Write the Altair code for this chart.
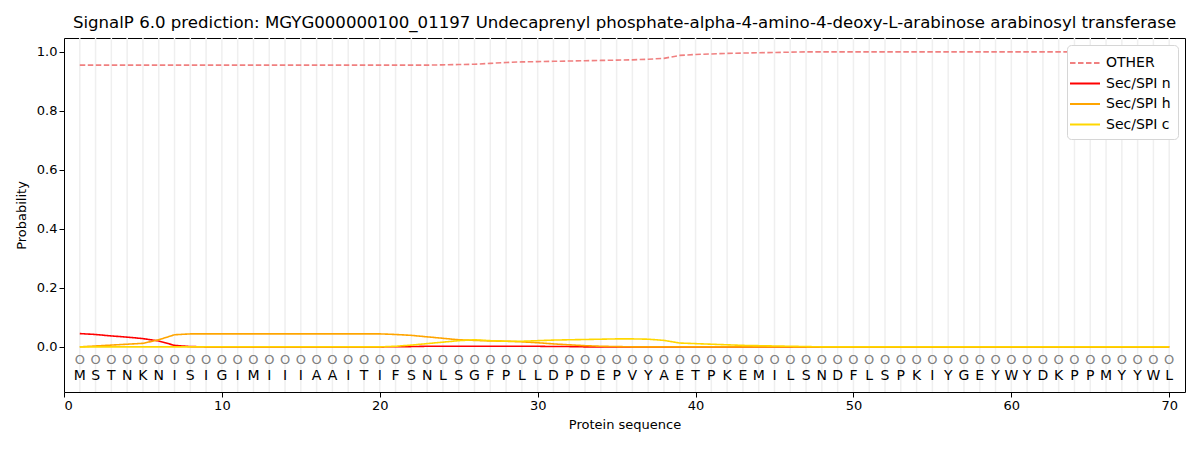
import altair as alt
import pandas as pd

sequence = list("MSTNKNISIGIMIIIAAITIFSNLSGFPLLDPDEPVYAETPKEMILSNDFLSPKIYGEYWYDKPPMYYWL")
positions = list(range(1, 71))

other = [0.955] * 22 + [0.955, 0.956, 0.957, 0.958, 0.961, 0.964, 0.966, 0.967,
         0.968, 0.969, 0.970, 0.971, 0.972, 0.973, 0.975, 0.978, 0.988, 0.991,
         0.993, 0.995, 0.996, 0.997, 0.998, 0.999] + [1.0] * 24

sec_n = [0.045, 0.042, 0.037, 0.033, 0.028, 0.020, 0.005, 0.001] + [0.0] * 12 + \
        [0.0005, 0.001, 0.002, 0.002, 0.002, 0.002, 0.002, 0.002, 0.002, 0.002, 0.001, 0.001] + [0.0] * 38

sec_h = [0.0, 0.003, 0.006, 0.009, 0.012, 0.024, 0.041, 0.044] + [0.044] * 12 + \
        [0.042, 0.039, 0.034, 0.029, 0.024, 0.022, 0.020, 0.019, 0.017, 0.014,
         0.010, 0.007, 0.004, 0.002, 0.001] + [0.0] * 35

sec_c = [0.0] * 20 + [0.002, 0.006, 0.011, 0.016, 0.021, 0.024, 0.021, 0.019, 0.019,
                      0.021, 0.023, 0.024, 0.025, 0.026, 0.027, 0.027, 0.026, 0.022,
                      0.013, 0.011, 0.009, 0.007, 0.005, 0.004, 0.003, 0.002, 0.001] + [0.0] * 23

series_names = ["OTHER", "Sec/SPI n", "Sec/SPI h", "Sec/SPI c"]
series_colors = ["#f08080", "#ff0000", "#ffa500", "#ffd700"]
series_dash = [[5.5, 2.5], [1, 0], [1, 0], [1, 0]]

rows = []
for name, vals in zip(series_names, [other, sec_n, sec_h, sec_c]):
    for p, v in zip(positions, vals):
        rows.append({"pos": p, "prob": v, "series": name})
df = pd.DataFrame(rows)

seq_df = pd.DataFrame({"pos": positions, "aa": sequence,
                       "circ": ["O"] * 70,
                       "yc": [-0.044] * 70, "ya": [-0.098] * 70})

FONT = "DejaVu Sans"
xscale = alt.Scale(domain=[0, 71], nice=False, zero=False)
yscale = alt.Scale(domain=[-0.153, 1.047], nice=False, zero=False)

grid = alt.Chart(seq_df).mark_rule(color="#efefef", strokeWidth=1.5).encode(
    x=alt.X("pos:Q", scale=xscale)
)

lines = alt.Chart(df).mark_line(strokeWidth=1.6, interpolate="linear").encode(
    x=alt.X("pos:Q", scale=xscale,
            axis=alt.Axis(title="Protein sequence", values=[0, 10, 20, 30, 40, 50, 60, 70],
                          grid=False, tickColor="black", domainColor="black",
                          labelColor="black", titleColor="black", tickSize=5,
                          labelFontSize=13, titleFontSize=13, titleFontWeight="normal",
                          labelFont=FONT, titleFont=FONT, titlePadding=6)),
    y=alt.Y("prob:Q", scale=yscale,
            axis=alt.Axis(title="Probability", values=[0, 0.2, 0.4, 0.6, 0.8, 1.0],
                          format=".1f", grid=False, tickColor="black", domainColor="black",
                          labelColor="black", titleColor="black", tickSize=5,
                          labelFontSize=13, titleFontSize=13, titleFontWeight="normal",
                          labelFont=FONT, titleFont=FONT, titlePadding=8)),
    color=alt.Color("series:N", scale=alt.Scale(domain=series_names, range=series_colors),
                    sort=series_names,
                    legend=alt.Legend(title=None, orient="top-right", offset=7,
                                      symbolType="M-1.5,0H1.5", symbolStrokeWidth=2,
                                      symbolSize=400, labelFontSize=14, labelFont=FONT,
                                      labelColor="black", labelOffset=10,
                                      fillColor="white", strokeColor="#d6d6d6",
                                      cornerRadius=4, padding=7, rowPadding=2.5)),
    strokeDash=alt.StrokeDash("series:N",
                              scale=alt.Scale(domain=series_names, range=series_dash),
                              sort=series_names, legend=None),
    order=alt.Order("pos:Q"),
)

circles = alt.Chart(seq_df).mark_text(font=FONT, fontSize=13, color="#808080").encode(
    x=alt.X("pos:Q", scale=xscale), y=alt.Y("yc:Q", scale=yscale), text="circ:N"
)
letters = alt.Chart(seq_df).mark_text(font=FONT, fontSize=14, color="black").encode(
    x=alt.X("pos:Q", scale=xscale), y=alt.Y("ya:Q", scale=yscale), text="aa:N"
)

chart = alt.layer(grid, lines, circles, letters).properties(
    width=1121, height=354,
    title=alt.TitleParams(
        "SignalP 6.0 prediction: MGYG000000100_01197 Undecaprenyl phosphate-alpha-4-amino-4-deoxy-L-arabinose arabinosyl transferase",
        font=FONT, fontSize=16.6, fontWeight="normal", color="black", anchor="middle", offset=6),
    autosize=alt.AutoSizeParams(type="none"),
    padding={"left": 56, "top": 30, "right": 5, "bottom": 50},
).configure_view(stroke="black", strokeWidth=1).configure_axis(
    domain=False
)

chart.save("out.html", embed_options={"renderer": "svg", "actions": False})
